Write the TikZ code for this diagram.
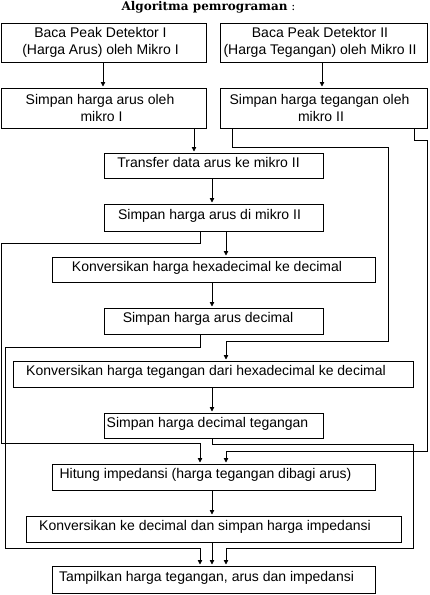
\documentclass[tikz,border=0pt]{standalone}
\usepackage{fontspec}
\setmainfont{Liberation Sans}
\newfontfamily\titlefont{DejaVu Serif}
\usetikzlibrary{arrows.meta}
\begin{document}
\begin{tikzpicture}[x=1pt,y=-1pt,
  box/.style={draw, line width=1pt, inner sep=0pt, align=center,
    font=\fontsize{14}{16.7}\selectfont},
  onebox/.style={box, text height=10pt, text depth=7pt},
  arr/.style={line width=0.8pt, -{Triangle[length=4.5pt,width=4.5pt]}, shorten >=1pt},
  lnk/.style={line width=0.8pt}]
\useasboundingbox (0,0) rectangle (429,595);
\node[anchor=base, font=\titlefont\fontsize{12}{14}\selectfont] (title) at (208.5,10)
  {\textbf{Algoritma pemrograman} :};
% boxes
\node[box, minimum width=205pt, minimum height=39pt] (b1) at (103.5,42.5)
  {Baca Peak Detektor I\hspace*{6pt}\\(Harga Arus) oleh Mikro I\hspace*{6pt}};
\node[box, minimum width=207pt, minimum height=39pt] (b2) at (323.5,42.5)
  {Baca Peak Detektor II\hspace*{7pt}\\(Harga Tegangan) oleh Mikro II\hspace*{7pt}};
\node[box, minimum width=205pt, minimum height=40pt] (b3) at (103.5,108)
  {Simpan harga arus oleh\hspace*{7pt}\\mikro I\hspace*{4pt}};
\node[box, minimum width=207pt, minimum height=40pt] (b4) at (323.5,108)
  {Simpan harga tegangan oleh\hspace*{8pt}\\mikro II\hspace*{5pt}};
\node[onebox, minimum width=219pt, minimum height=25pt] (b5) at (213.5,165.5)
  {Transfer data arus ke mikro II\hspace*{10pt}};
\node[onebox, minimum width=219pt, minimum height=27pt] (b6) at (213.5,217.5)
  {Simpan harga arus di mikro II\hspace*{8pt}};
\node[onebox, minimum width=323pt, minimum height=25pt] (b7) at (213.5,269.5)
  {Konversikan harga hexadecimal ke decimal\hspace*{13pt}};
\node[onebox, minimum width=219pt, minimum height=26pt] (b8) at (213.5,321)
  {Simpan harga arus decimal\hspace*{11pt}};
\node[onebox, minimum width=400pt, minimum height=26pt] (b9) at (213,374)
  {Konversikan harga tegangan dari hexadecimal ke decimal\hspace*{14pt}};
\node[onebox, minimum width=219pt, minimum height=25pt] (b10) at (213.5,425.5)
  {Simpan harga decimal tegangan\hspace*{12pt}};
\node[onebox, minimum width=323pt, minimum height=26pt] (b11) at (213.5,477)
  {Hitung impedansi (harga tegangan dibagi arus)\hspace*{16pt}};
\node[onebox, minimum width=375pt, minimum height=26pt] (b12) at (213.5,529)
  {Konversikan ke decimal dan simpan harga impedansi\hspace*{17pt}};
\node[onebox, minimum width=323pt, minimum height=27pt] (b13) at (213.5,579.5)
  {Tampilkan harga tegangan, arus dan impedansi\hspace*{14pt}};
% lane coordinates
\coordinate (xA) at (103,0);
\coordinate (xB) at (322,0);
\coordinate (xC) at (194,0);
\coordinate (xD) at (232,0);
\coordinate (xE) at (414,0);
\coordinate (xL) at (200,0);
\coordinate (xM) at (212,0);
\coordinate (xR) at (226,0);
\coordinate (t1) at (388,147);
\coordinate (t2) at (226,341);
\coordinate (u1) at (427,140);
\coordinate (u2) at (226,451);
\coordinate (v1) at (1,243);
\coordinate (v2) at (200,443);
\coordinate (w1) at (5,347);
\coordinate (w2) at (200,548);
\coordinate (z1) at (413,444);
\coordinate (z2) at (226,548);
% connectors
\draw[arr] (b1.south -| xA) -- (b3.north -| xA);
\draw[arr] (b2.south -| xB) -- (b4.north -| xB);
\draw[arr] (b3.south -| xC) -- (b5.north -| xC);
\draw[arr] (b4.south -| xD) |- (t1) |- (t2) -- (b9.north -| t2);
\draw[arr] (b4.south -| xE) |- (u1) |- (u2) -- (b11.north -| u2);
\draw[arr] (b5.south -| xM) -- (b6.north -| xM);
\draw[arr] (b6.south -| xR) -- (b7.north -| xR);
\draw[arr] (b6.south -| xL) |- (v1) |- (v2) -- (b11.north -| v2);
\draw[arr] (b7.south -| xM) -- (b8.north -| xM);
\draw[arr] (b8.south -| xL) |- (w1) |- (w2) -- (b13.north -| w2);
\draw[arr] (b9.south -| xM) -- (b10.north -| xM);
\draw[arr] (b10.south -| xM) |- (z1) |- (z2) -- (b13.north -| z2);
\draw[arr] (b11.south -| xM) -- (b12.north -| xM);
\draw[arr] (b12.south -| xM) -- (b13.north -| xM);
\end{tikzpicture}
\end{document}
